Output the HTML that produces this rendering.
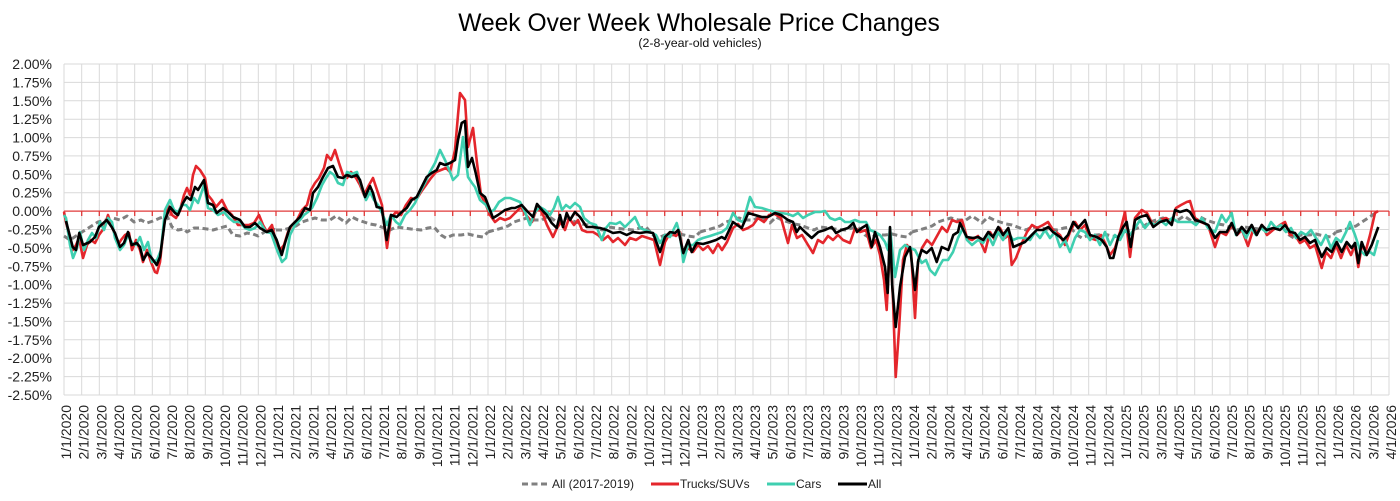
<!DOCTYPE html>
<html><head><meta charset="utf-8"><style>
html,body{margin:0;padding:0;background:#fff;}
svg{display:block;font-family:"Liberation Sans",Arial,sans-serif;}
</style></head><body>
<svg width="1400" height="501" viewBox="0 0 1400 501" xmlns="http://www.w3.org/2000/svg">
<rect width="1400" height="501" fill="#fff"/>
<text x="699" y="31" text-anchor="middle" font-size="24.6" fill="#000">Week Over Week Wholesale Price Changes</text>
<text x="700" y="47" text-anchor="middle" font-size="12.4" fill="#111">(2-8-year-old vehicles)</text>

<g stroke="#d9d9d9" stroke-width="1" fill="none">
<path d="M64 64H1389M64 82.4H1389M64 100.8H1389M64 119.2H1389M64 137.6H1389M64 155.9H1389M64 174.3H1389M64 192.7H1389M64 229.5H1389M64 247.9H1389M64 266.3H1389M64 284.7H1389M64 303.1H1389M64 321.4H1389M64 339.8H1389M64 358.2H1389M64 376.6H1389M64 395H1389"/>
<path d="M64 64V395M81.7 64V395M99.3 64V395M117 64V395M134.7 64V395M152.3 64V395M170 64V395M187.7 64V395M205.3 64V395M223 64V395M240.7 64V395M258.3 64V395M276 64V395M293.7 64V395M311.3 64V395M329 64V395M346.7 64V395M364.3 64V395M382 64V395M399.7 64V395M417.3 64V395M435 64V395M452.7 64V395M470.3 64V395M488 64V395M505.7 64V395M523.3 64V395M541 64V395M558.7 64V395M576.3 64V395M594 64V395M611.7 64V395M629.3 64V395M647 64V395M664.7 64V395M682.3 64V395M700 64V395M717.7 64V395M735.3 64V395M753 64V395M770.7 64V395M788.3 64V395M806 64V395M823.7 64V395M841.3 64V395M859 64V395M876.7 64V395M894.3 64V395M912 64V395M929.7 64V395M947.3 64V395M965 64V395M982.7 64V395M1000.3 64V395M1018 64V395M1035.7 64V395M1053.3 64V395M1071 64V395M1088.7 64V395M1106.3 64V395M1124 64V395M1141.7 64V395M1159.3 64V395M1177 64V395M1194.7 64V395M1212.3 64V395M1230 64V395M1247.7 64V395M1265.3 64V395M1283 64V395M1300.7 64V395M1318.3 64V395M1336 64V395M1353.7 64V395M1371.3 64V395M1389 64V395"/>
</g>

<g stroke="#e03a3a" stroke-width="1.3" fill="none">
<path d="M64 211.1H1389"/>
<path d="M64 211V216M81.7 211V216M99.3 211V216M117 211V216M134.7 211V216M152.3 211V216M170 211V216M187.7 211V216M205.3 211V216M223 211V216M240.7 211V216M258.3 211V216M276 211V216M293.7 211V216M311.3 211V216M329 211V216M346.7 211V216M364.3 211V216M382 211V216M399.7 211V216M417.3 211V216M435 211V216M452.7 211V216M470.3 211V216M488 211V216M505.7 211V216M523.3 211V216M541 211V216M558.7 211V216M576.3 211V216M594 211V216M611.7 211V216M629.3 211V216M647 211V216M664.7 211V216M682.3 211V216M700 211V216M717.7 211V216M735.3 211V216M753 211V216M770.7 211V216M788.3 211V216M806 211V216M823.7 211V216M841.3 211V216M859 211V216M876.7 211V216M894.3 211V216M912 211V216M929.7 211V216M947.3 211V216M965 211V216M982.7 211V216M1000.3 211V216M1018 211V216M1035.7 211V216M1053.3 211V216M1071 211V216M1088.7 211V216M1106.3 211V216M1124 211V216M1141.7 211V216M1159.3 211V216M1177 211V216M1194.7 211V216M1212.3 211V216M1230 211V216M1247.7 211V216M1265.3 211V216M1283 211V216M1300.7 211V216M1318.3 211V216M1336 211V216M1353.7 211V216M1371.3 211V216M1389 211V216"/>
</g>

<g font-size="14" fill="#222" text-anchor="end">
<text x="52" y="69">2.00%</text><text x="52" y="87.4">1.75%</text><text x="52" y="105.8">1.50%</text><text x="52" y="124.2">1.25%</text><text x="52" y="142.6">1.00%</text><text x="52" y="160.9">0.75%</text><text x="52" y="179.3">0.50%</text><text x="52" y="197.7">0.25%</text><text x="52" y="216.1">0.00%</text><text x="52" y="234.5">-0.25%</text><text x="52" y="252.9">-0.50%</text><text x="52" y="271.3">-0.75%</text><text x="52" y="289.7">-1.00%</text><text x="52" y="308.1">-1.25%</text><text x="52" y="326.4">-1.50%</text><text x="52" y="344.8">-1.75%</text><text x="52" y="363.2">-2.00%</text><text x="52" y="381.6">-2.25%</text><text x="52" y="400">-2.50%</text>
</g>

<g font-size="14" fill="#222" text-anchor="end">
<text transform="translate(71,405) rotate(-90)">1/1/2020</text>
<text transform="translate(88.7,405) rotate(-90)">2/1/2020</text>
<text transform="translate(106.3,405) rotate(-90)">3/1/2020</text>
<text transform="translate(124,405) rotate(-90)">4/1/2020</text>
<text transform="translate(141.7,405) rotate(-90)">5/1/2020</text>
<text transform="translate(159.3,405) rotate(-90)">6/1/2020</text>
<text transform="translate(177,405) rotate(-90)">7/1/2020</text>
<text transform="translate(194.7,405) rotate(-90)">8/1/2020</text>
<text transform="translate(212.3,405) rotate(-90)">9/1/2020</text>
<text transform="translate(230,405) rotate(-90)">10/1/2020</text>
<text transform="translate(247.7,405) rotate(-90)">11/1/2020</text>
<text transform="translate(265.3,405) rotate(-90)">12/1/2020</text>
<text transform="translate(283,405) rotate(-90)">1/1/2021</text>
<text transform="translate(300.7,405) rotate(-90)">2/1/2021</text>
<text transform="translate(318.3,405) rotate(-90)">3/1/2021</text>
<text transform="translate(336,405) rotate(-90)">4/1/2021</text>
<text transform="translate(353.7,405) rotate(-90)">5/1/2021</text>
<text transform="translate(371.3,405) rotate(-90)">6/1/2021</text>
<text transform="translate(389,405) rotate(-90)">7/1/2021</text>
<text transform="translate(406.7,405) rotate(-90)">8/1/2021</text>
<text transform="translate(424.3,405) rotate(-90)">9/1/2021</text>
<text transform="translate(442,405) rotate(-90)">10/1/2021</text>
<text transform="translate(459.7,405) rotate(-90)">11/1/2021</text>
<text transform="translate(477.3,405) rotate(-90)">12/1/2021</text>
<text transform="translate(495,405) rotate(-90)">1/1/2022</text>
<text transform="translate(512.7,405) rotate(-90)">2/1/2022</text>
<text transform="translate(530.3,405) rotate(-90)">3/1/2022</text>
<text transform="translate(548,405) rotate(-90)">4/1/2022</text>
<text transform="translate(565.7,405) rotate(-90)">5/1/2022</text>
<text transform="translate(583.3,405) rotate(-90)">6/1/2022</text>
<text transform="translate(601,405) rotate(-90)">7/1/2022</text>
<text transform="translate(618.7,405) rotate(-90)">8/1/2022</text>
<text transform="translate(636.3,405) rotate(-90)">9/1/2022</text>
<text transform="translate(654,405) rotate(-90)">10/1/2022</text>
<text transform="translate(671.7,405) rotate(-90)">11/1/2022</text>
<text transform="translate(689.3,405) rotate(-90)">12/1/2022</text>
<text transform="translate(707,405) rotate(-90)">1/1/2023</text>
<text transform="translate(724.7,405) rotate(-90)">2/1/2023</text>
<text transform="translate(742.3,405) rotate(-90)">3/1/2023</text>
<text transform="translate(760,405) rotate(-90)">4/1/2023</text>
<text transform="translate(777.7,405) rotate(-90)">5/1/2023</text>
<text transform="translate(795.3,405) rotate(-90)">6/1/2023</text>
<text transform="translate(813,405) rotate(-90)">7/1/2023</text>
<text transform="translate(830.7,405) rotate(-90)">8/1/2023</text>
<text transform="translate(848.3,405) rotate(-90)">9/1/2023</text>
<text transform="translate(866,405) rotate(-90)">10/1/2023</text>
<text transform="translate(883.7,405) rotate(-90)">11/1/2023</text>
<text transform="translate(901.3,405) rotate(-90)">12/1/2023</text>
<text transform="translate(919,405) rotate(-90)">1/1/2024</text>
<text transform="translate(936.7,405) rotate(-90)">2/1/2024</text>
<text transform="translate(954.3,405) rotate(-90)">3/1/2024</text>
<text transform="translate(972,405) rotate(-90)">4/1/2024</text>
<text transform="translate(989.7,405) rotate(-90)">5/1/2024</text>
<text transform="translate(1007.3,405) rotate(-90)">6/1/2024</text>
<text transform="translate(1025,405) rotate(-90)">7/1/2024</text>
<text transform="translate(1042.7,405) rotate(-90)">8/1/2024</text>
<text transform="translate(1060.3,405) rotate(-90)">9/1/2024</text>
<text transform="translate(1078,405) rotate(-90)">10/1/2024</text>
<text transform="translate(1095.7,405) rotate(-90)">11/1/2024</text>
<text transform="translate(1113.3,405) rotate(-90)">12/1/2024</text>
<text transform="translate(1131,405) rotate(-90)">1/1/2025</text>
<text transform="translate(1148.7,405) rotate(-90)">2/1/2025</text>
<text transform="translate(1166.3,405) rotate(-90)">3/1/2025</text>
<text transform="translate(1184,405) rotate(-90)">4/1/2025</text>
<text transform="translate(1201.7,405) rotate(-90)">5/1/2025</text>
<text transform="translate(1219.3,405) rotate(-90)">6/1/2025</text>
<text transform="translate(1237,405) rotate(-90)">7/1/2025</text>
<text transform="translate(1254.7,405) rotate(-90)">8/1/2025</text>
<text transform="translate(1272.3,405) rotate(-90)">9/1/2025</text>
<text transform="translate(1290,405) rotate(-90)">10/1/2025</text>
<text transform="translate(1307.7,405) rotate(-90)">11/1/2025</text>
<text transform="translate(1325.3,405) rotate(-90)">12/1/2025</text>
<text transform="translate(1343,405) rotate(-90)">1/1/2026</text>
<text transform="translate(1360.7,405) rotate(-90)">2/1/2026</text>
<text transform="translate(1378.3,405) rotate(-90)">3/1/2026</text>
<text transform="translate(1396,405) rotate(-90)">4/1/2026</text>
</g>

<defs>
<clipPath id="gc"><rect x="60" y="60" width="1318" height="340"/></clipPath>
</defs>

<g clip-path="url(#gc)" fill="none" stroke="#808080" stroke-width="3" stroke-dasharray="6,3.5" stroke-linejoin="round">
<polyline points="64,236 70,240 76,236 82,232 90,227 98,222 106,220 113,218 120,220 127,216 134,222 141,220 147,223 153,221 160,218 167,216 172,227 178,230 184,229 187,232 194,228 200,228 207,229 213,230 220,228 227,226 233,235 240,236 247,233 253,234 258,236 263,233 270,228 276,230"/>
<polyline transform="translate(276,0)" points="0,230 7,230 14,228 20,226 26,222 32,220 39,218 46,220 54,220 60,216 66,220 70,223 76,217 82,220 88,222 94,224 100,225 108,228 114,230 120,227 128,228 135,229 145,230 152,228 158,227 165,235 170,238 177,235 185,235 192,234 200,236 207,237 212,232"/>
<polyline transform="translate(488,0)" points="0,232 7,230 14,228 20,226 26,222 32,220 39,218 46,220 54,220 60,216 66,220 70,223 76,217 82,220 88,222 94,224 100,225 108,228 114,230 120,227 128,228 135,229 145,230 152,228 158,227 165,235 170,238 177,235 185,235 192,234 200,236 207,237 212,232"/>
<polyline transform="translate(700,0)" points="0,232 7,230 14,228 20,226 26,222 32,220 39,218 46,220 54,220 60,216 66,220 70,223 76,217 82,220 88,222 94,224 100,225 108,228 114,230 120,227 128,228 135,229 145,230 152,228 158,227 165,235 170,238 177,235 185,235 192,234 200,236 207,237 212,232"/>
<polyline transform="translate(912,0)" points="0,232 7,230 14,228 20,226 26,222 32,220 39,218 46,220 54,220 60,216 66,220 70,223 76,217 82,220 88,222 94,224 100,225 108,228 114,230 120,227 128,228 135,229 145,230 152,228 158,227 165,235 170,238 177,235 185,235 192,234 200,236 207,237 212,232"/>
<polyline transform="translate(1124,0)" points="0,232 7,230 14,228 20,226 26,222 32,220 39,218 46,220 54,220 60,216 66,220 70,223 76,217 82,220 88,222 94,224 100,225 108,228 114,230 120,227 128,228 135,229 145,230 152,228 158,227 165,235 170,238 177,235 185,235 192,234 200,236 207,237 212,232"/>
<polyline transform="translate(1336,0)" points="0,232 7,230 14,228 20,226 26,222 32,218 38,214 42,212"/>
</g>

<polyline fill="none" stroke="#e4262c" stroke-width="2.6" stroke-linejoin="round" points="64,212 66,222 70,240 73,250 76,245 79,238 83,258 87,245 91,240 95,243 99,235 104,228 108,215 111,225 114,232 118,245 121,240 125,235 129,233 132,250 136,240 140,250 143,262 147,250 151,262 155,272 157,273 160,262 164,225 168,205 172,215 176,218 180,210 184,195 187,188 190,195 193,175 196,166 200,170 205,178 208,195 212,200 216,207 222,200 227,210 232,215 238,225 244,225 249,225 254,223 259,215 263,225 267,232 272,225 276,243 280,250 284,245 288,232 292,225 297,220 302,210 307,205 311,190 315,183 319,178 324,168 327,155 331,160 335,150 339,163 343,175 347,178 351,172 356,178 360,185 364,195 369,185 373,178 377,190 382,205 387,248 391,218 396,212 401,215 406,205 411,198 416,200 421,192 426,185 431,178 436,172 441,170 446,168 450,172 455,150 458,115 460,93 465,100 468,147 473,128 477,163 481,195 486,205 490,215 495,222 500,218 505,220 510,218 516,212 521,207 526,215 532,222 537,208 542,212 547,225 553,237 557,228 561,222 565,230 569,218 574,225 578,220 582,230 587,232 593,232 598,235 603,240 608,236 613,242 618,238 625,245 630,238 636,240 642,236 648,238 654,240 660,265 665,242 670,233 676,236 680,232 683,255 688,248 693,252 698,245 703,250 708,246 713,253 718,244 722,250 727,242 733,228 738,224 743,230 748,228 753,225 758,218 764,222 769,215 775,214 781,218 788,243 792,225 797,238 802,235 808,245 813,253 818,240 823,243 828,236 833,240 838,235 843,240 850,243 855,228 860,232 866,230 871,248 876,240 880,255 884,280 886.7,310 890,240 893,300 895.7,377 899,330 903,260 907,245 911,250 915,318 918,262 922,248 927,240 932,245 937,236 942,227 947,232 952,220 957,222 962,220 967,238 972,240 978,236 985,252 990,232 995,240 1000,228 1005,238 1009,235 1011.7,265 1016,258 1021,245 1027,232 1032,225 1037,228 1043,225 1048,222 1053,230 1060,235 1065,245 1070,232 1075,222 1080,230 1085,225 1090,238 1096,240 1101,235 1106,245 1110,255 1115,248 1120,232 1125,212 1130,257 1135,218 1141.7,210 1147,213 1153,225 1160,220 1166,218 1172,222 1176,208 1181,205 1186.7,202 1190,201 1195,218 1201,222 1208,225 1215,247 1220,232 1226,235 1232,225 1237,235 1242,230 1248,246 1253,230 1258,232 1262,225 1267,235 1273,230 1280,225 1285,222 1290,235 1295,235 1300,243 1305,240 1310,248 1315,245 1321.7,268 1326,252 1331,258 1336,245 1341,258 1346,245 1351,255 1355,245 1358.3,267 1362,245 1366,250 1370,235 1375,213 1378,211"/>

<polyline fill="none" stroke="#3fcfb0" stroke-width="2.6" stroke-linejoin="round" points="64,215 66,218 70,245 73,258 77,248 80,232 84,250 88,240 92,233 96,238 100,222 104,230 108,218 112,222 115,238 120,250 124,245 128,235 132,243 136,245 140,237 144,250 148,242 152,262 157,260 161,250 165,210 170,200 174,210 178,212 182,205 186,205 190,210 194,198 198,203 204,185 208,208 213,210 218,215 224,212 229,218 234,222 240,222 245,228 250,230 255,228 260,222 266,232 271,233 277,250 282,262 286,258 290,235 295,225 300,220 304,215 308,212 312,208 317,198 322,185 326,178 330,172 334,175 338,183 343,185 347,172 352,174 357,172 361,185 366,200 370,192 374,200 378,205 382,213 387,225 391,215 396,222 400,225 405,215 410,210 415,203 420,192 425,183 430,172 435,163 440,150 445,160 450,172 453,180 458,175 463,137 468,177 472,183 475,187 480,200 486,205 490,212 494,210 499,202 505,198 510,198 515,200 520,202 525,212 530,225 535,212 540,207 545,210 550,215 554,208 558,197 562,210 566,205 570,208 575,203 580,207 584,218 590,223 596,225 601.7,240 606,228 610,223 616,224 620,222 625,227 630,222 635,217 640,228 645,230 650,232 656,235 660,243 665,235 670,237 676.7,223 680,235 683.3,262 688,245 693,245 698,240 703,238 710,236 716,234 722,232 727,228 733,213 738,220 743,222 750,197 755,207 761.7,208 768,210 775,212 781,213 788,214 793,216 798,213 803,218 808,215 815,212 820,212 825,211 830,218 835,220 840,218 845,222 850,222 855,220 860,222 866,222 870,230 875,232 880,235 885,242 888,250 890,228 895,277 900,250 905,245 910,248 915,250 921.7,263 926,260 930,270 935,275 940,265 943,260 948,260 953,252 958,238 963,228 967,240 972,245 978,240 983,243 988,235 993,245 998,232 1003,240 1008,232 1013,240 1018,238 1025,238 1030,240 1035,232 1040,238 1045,230 1050,238 1055,232 1060,247 1065,240 1070,252 1075,238 1080,230 1085,232 1090,240 1095,235 1100,245 1105,232 1110,245 1115,235 1120,240 1125,230 1130,235 1135,228 1140,220 1145,228 1150,222 1155,225 1160,220 1166,225 1172,218 1178,222 1186.7,222 1191.7,222 1196,225 1202,218 1208,228 1215,232 1221.7,215 1226,222 1231.7,213 1236,235 1241,228 1246,238 1251,228 1256,235 1261,228 1266,232 1271,222 1276,228 1281,225 1286,232 1291,228 1296,238 1301,232 1306,235 1311,230 1316,238 1321,245 1326,235 1331,248 1336,238 1341,242 1346,232 1350,222 1355,235 1360,250 1365,255 1370,252 1374,255 1378,240"/>

<polyline fill="none" stroke="#000" stroke-width="2.6" stroke-linejoin="round" points="66,221 72.7,247 76,250 79.3,233 83,245 90,242 95,237 99,227 106.7,220 111.7,227 115,233 120,247 124,243 128,232 131.7,245 136.7,243 140,247 143.3,260 147.3,253 151.7,258 156.7,265 160,257 165,220 170,207 175,213 178,215 183,203 186.7,197 190.7,200 195,187 198,190 204,180 208,203 213,205 216.7,213 223,208 228,212 233,217 240,220 245,227 250,227 255,223 260,228 266.7,232 271.7,230 276.7,240 281.7,255 285,243 290,227 295,222 300,217 305,208 310,210 313,193 318,187 323,177 328,168 333,166 338,177 343,178 346.7,175 351.7,177 356.7,175 360,180 365,197 370,186 373,193 376.7,207 381.7,208 386.7,240 391,215 396.7,217 401.7,212 406.7,208 411.7,200 416.7,197 421.7,187 426.7,177 431.7,173 436.7,170 440,163 445,165 450,163 455,160 458,140 461.7,123 465,121 468,167 472,158 475.7,173 480,193 485,197 490,210 493,218 498,215 505,210 511.7,208 515,208 521.7,205 527,211 533,217 537,204 542,210 546.7,215 551.7,223 556.7,228 560,215 563,227 566.7,213 570,220 575,212 580,217 586.7,227 593,227 600,228 606.7,230 613,233 620,232 626.7,235 633,232 640,233 646.7,232 653,233 660,252 665,237 670,232 675,233 678.3,230 683.3,253 688.3,240 691.7,252 696.7,243 703,244 710,242 716,240 721.7,237 725,239 733,222 740,227 741.7,228 748.3,213 755,215 761.7,217 768,217 775,213 781,215 788,220 793,222 796.7,232 800,227 805,232 811.7,238 818.3,232 825,230 831.7,227 836,233 841.7,230 848,228 853.3,223 857,232 861.7,228 866.7,225 871.7,247 875,232 880,247 885,267 887.7,293 890,227 892.3,287 895.7,327 900,287 905,257 910,247 915,290 918.3,260 921.7,250 926.7,253 931.7,248 936.7,262 941.7,247 948.3,250 953.3,235 958,232 960,223 966.7,237 973,238 978.3,237 983.3,240 988.3,232 993,237 998.3,227 1003,235 1008.3,228 1013.3,247 1018,245 1025,242 1031.7,235 1036.7,230 1043,230 1048.3,227 1053,232 1060,237 1063.3,240 1068,235 1073.3,222 1078,228 1085,220 1090,235 1096.7,237 1101.7,240 1106.7,247 1110,258 1113.3,258 1118.3,237 1123.3,227 1126.7,222 1130.7,247 1135,220 1140,217 1146.7,215 1153.3,227 1160,222 1166.7,220 1171.7,225 1175,210 1180,212 1186.7,210 1190,212 1195,220 1201.7,222 1208.3,225 1215,238 1220,232 1226.7,232 1231.7,223 1236.7,235 1241.7,227 1246.7,233 1251.7,225 1256.7,235 1261.7,225 1266.7,230 1273.3,228 1280,230 1285,225 1290,232 1295,233 1300,240 1305,237 1310,243 1315,240 1321.7,257 1326.7,248 1331.7,252 1336.7,242 1341.7,252 1346.7,242 1351.7,248 1355,243 1358.3,263 1361.7,242 1366.7,255 1371.7,245 1378.3,227"/>

<g font-size="12" fill="#222">
<line x1="522" y1="484" x2="550" y2="484" stroke="#808080" stroke-width="3" stroke-dasharray="6,3.5"/>
<text x="552" y="488">All (2017-2019)</text>
<line x1="651" y1="484" x2="679" y2="484" stroke="#e4262c" stroke-width="3"/>
<text x="680" y="488">Trucks/SUVs</text>
<line x1="767" y1="484" x2="795" y2="484" stroke="#3fcfb0" stroke-width="3"/>
<text x="796" y="488">Cars</text>
<line x1="838" y1="484" x2="867" y2="484" stroke="#000" stroke-width="3"/>
<text x="868" y="488">All</text>
</g>
</svg>
</body></html>
